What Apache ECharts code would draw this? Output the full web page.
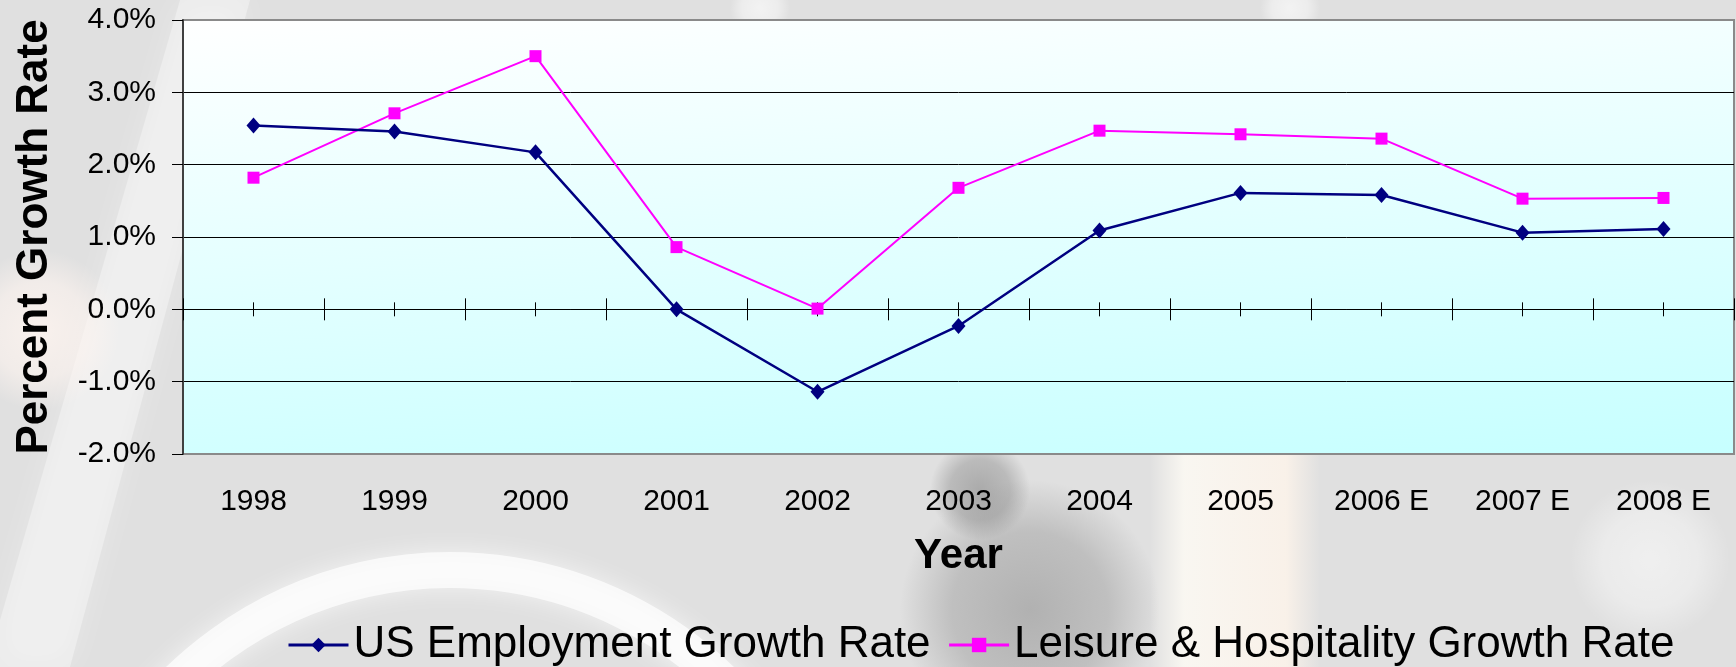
<!DOCTYPE html>
<html>
<head>
<meta charset="utf-8">
<script src="https://cdn.jsdelivr.net/npm/echarts@6/dist/echarts.min.js"></script>
<style>
  html, body { margin: 0; padding: 0; }
  #chart { width: 1736px; height: 667px; }
</style>
</head>
<body>
<div id="chart"></div>
<script>
// ---- data ----
const categories = ['1998', '1999', '2000', '2001', '2002', '2003', '2004', '2005', '2006 E', '2007 E', '2008 E'];
const usEmploymentGrowth = [2.54, 2.46, 2.17, 0.0, -1.14, -0.23, 1.09, 1.61, 1.58, 1.06, 1.11];
const leisureHospitalityGrowth = [1.82, 2.71, 3.50, 0.86, 0.01, 1.68, 2.47, 2.42, 2.36, 1.53, 1.54];
const seriesNames = ['US Employment Growth Rate', 'Leisure & Hospitality Growth Rate'];
const yMin = -2, yMax = 4, yStep = 1;

const FONT = '"Liberation Sans", Arial, sans-serif';
const chart = echarts.init(document.getElementById('chart'));

function tickAxis(position, alignWithLabel, length, yIdx) {
  return {
    type: 'category', data: categories, position: position,
    axisLine: { show: position === 'bottom' && !alignWithLabel, onZero: true, onZeroAxisIndex: yIdx,
                lineStyle: { color: '#000', width: 1 } },
    axisTick: { show: true, alignWithLabel: alignWithLabel, length: length, lineStyle: { color: '#000', width: 1 } },
    axisLabel: { show: false }, splitLine: { show: false }
  };
}
function hiddenY() {
  return { type: 'value', min: yMin, max: yMax, interval: yStep, show: false };
}
function softBlob(color, alpha) {
  return {
    type: 'radial', x: 0.5, y: 0.5, r: 0.5,
    colorStops: [
      { offset: 0, color: 'rgba(' + color + ',' + alpha + ')' },
      { offset: 0.6, color: 'rgba(' + color + ',' + (alpha * 0.7) + ')' },
      { offset: 1, color: 'rgba(' + color + ',0)' }
    ]
  };
}

const option = {
  backgroundColor: '#e0e0e0',
  animation: false,
  textStyle: { fontFamily: FONT },
  graphic: [
    { type: 'polygon', z: -10, silent: true,
      shape: { points: [[180, 0], [250, 0], [70, 667], [0, 667], [0, 620]] },
      style: { fill: 'rgba(255,255,255,0.35)', shadowBlur: 30, shadowColor: 'rgba(255,255,255,0.7)' } },
    { type: 'ellipse', z: -10, silent: true,
      shape: { cx: 40, cy: 330, rx: 80, ry: 110 },
      style: { fill: softBlob('255,245,240', 0.8) } },
    { type: 'arc', z: -10, silent: true,
      shape: { cx: 450, cy: 960, r: 390, startAngle: Math.PI * 1.05, endAngle: Math.PI * 1.95 },
      style: { stroke: 'rgba(255,255,255,0.7)', lineWidth: 36, fill: null,
               shadowBlur: 25, shadowColor: 'rgba(255,255,255,0.9)' } },
    { type: 'ellipse', z: -10, silent: true,
      shape: { cx: 1030, cy: 610, rx: 130, ry: 210 },
      style: { fill: softBlob('120,120,120', 0.45) } },
    { type: 'ellipse', z: -10, silent: true,
      shape: { cx: 980, cy: 490, rx: 50, ry: 60 },
      style: { fill: softBlob('90,90,90', 0.4) } },
    { type: 'rect', z: -10, silent: true,
      shape: { x: 1150, y: 455, width: 170, height: 212 },
      style: { fill: {
        type: 'linear', x: 0, y: 0, x2: 1, y2: 0,
        colorStops: [
          { offset: 0, color: 'rgba(255,252,245,0)' },
          { offset: 0.2, color: 'rgba(255,252,245,0.8)' },
          { offset: 0.8, color: 'rgba(255,245,235,0.8)' },
          { offset: 1, color: 'rgba(255,245,235,0)' }
        ] } } },
    { type: 'ellipse', z: -10, silent: true,
      shape: { cx: 1650, cy: 560, rx: 80, ry: 130 },
      style: { fill: softBlob('255,255,255', 0.5) } },
    { type: 'ellipse', z: -10, silent: true,
      shape: { cx: 760, cy: 8, rx: 120, ry: 30 },
      style: { fill: softBlob('255,255,255', 0.6) } },
    { type: 'ellipse', z: -10, silent: true,
      shape: { cx: 1290, cy: 8, rx: 110, ry: 30 },
      style: { fill: softBlob('255,255,255', 0.6) } }
  ],
  grid: {
    left: 183, top: 20, right: 2, bottom: 213,
    show: true, borderColor: '#8a8a8a', borderWidth: 2,
    backgroundColor: {
      type: 'linear', x: 0, y: 0, x2: 0.025, y2: 1.25,
      colorStops: [{ offset: 0, color: '#ffffff' }, { offset: 1, color: '#c6ffff' }]
    }
  },
  legend: {
    data: seriesNames,
    left: 282, top: 618,
    itemWidth: 60, itemHeight: 18, itemGap: 17,
    lineStyle: { width: 3 },
    textStyle: { fontSize: 44, color: '#000', fontFamily: FONT }
  },
  xAxis: [
    {
      type: 'category', data: categories, position: 'bottom',
      axisLine: { show: false, onZero: false }, axisTick: { show: false },
      axisLabel: { fontSize: 30, color: '#000', margin: 33, fontFamily: FONT },
      splitLine: { show: false },
      name: 'Year', nameLocation: 'middle', nameGap: 81,
      nameTextStyle: { fontSize: 42, fontWeight: 'bold', color: '#000', fontFamily: FONT }
    },
    tickAxis('bottom', false, 11, 0),
    tickAxis('top', false, 11, 1),
    tickAxis('bottom', true, 7, 2),
    tickAxis('top', true, 7, 3)
  ],
  yAxis: [
    {
      type: 'value', min: yMin, max: yMax, interval: yStep,
      axisLine: { show: true, onZero: false, lineStyle: { color: '#404040', width: 2 } },
      axisTick: { show: true, length: 11, lineStyle: { color: '#000', width: 1 } },
      axisLabel: { fontSize: 30, color: '#000', margin: 27, fontFamily: FONT,
                   formatter: v => v.toFixed(1) + '%' },
      splitLine: { show: true, showMinLine: false, showMaxLine: false, lineStyle: { color: '#000', width: 1 } },
      name: 'Percent Growth Rate', nameLocation: 'middle', nameGap: 126,
      nameTextStyle: { fontSize: 44, fontWeight: 'bold', color: '#000', fontFamily: FONT }
    },
    hiddenY(), hiddenY(), hiddenY()
  ],
  series: [
    {
      name: seriesNames[0], type: 'line', data: usEmploymentGrowth,
      xAxisIndex: 0, yAxisIndex: 0,
      symbol: 'diamond', symbolSize: [14, 16],
      lineStyle: { color: '#000080', width: 2.5 },
      itemStyle: { color: '#000080', borderWidth: 0 },
      z: 3
    },
    {
      name: seriesNames[1], type: 'line', data: leisureHospitalityGrowth,
      xAxisIndex: 0, yAxisIndex: 0,
      symbol: 'rect', symbolSize: 12,
      lineStyle: { color: '#ff00ff', width: 2 },
      itemStyle: { color: '#ff00ff', borderWidth: 0 },
      z: 2
    }
  ]
};
chart.setOption(option);
</script>
</body>
</html>
